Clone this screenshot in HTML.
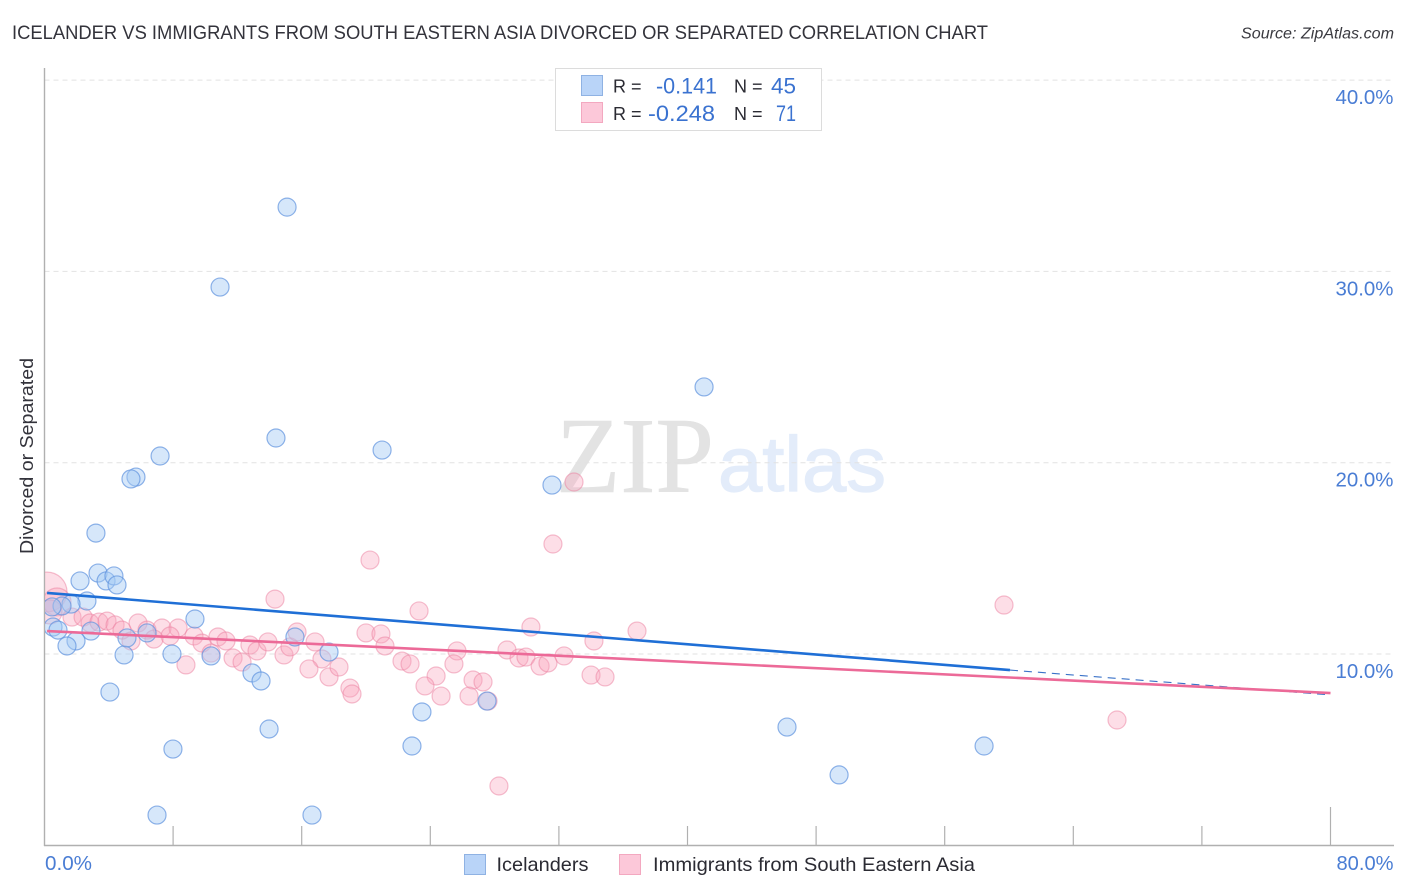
<!DOCTYPE html>
<html lang="en">
<head>
<meta charset="utf-8">
<title>Correlation chart</title>
<style>
html,body{margin:0;padding:0;background:#fff;width:1406px;height:892px;overflow:hidden}
svg{display:block}
text{font-family:"Liberation Sans",sans-serif}
</style>
</head>
<body>
<svg id="chart" xmlns="http://www.w3.org/2000/svg" width="1406" height="892" viewBox="0 0 1406 892">
  <defs>
    <clipPath id="plot-clip"><rect x="45" y="60" width="1349" height="785"/></clipPath>
  </defs>
  <rect width="1406" height="892" fill="#fff"/>
  <text x="12" y="39" font-size="19.5" fill="#33333b" textLength="976" lengthAdjust="spacingAndGlyphs">ICELANDER VS IMMIGRANTS FROM SOUTH EASTERN ASIA DIVORCED OR SEPARATED CORRELATION CHART</text>
  <text x="1394" y="38.5" font-size="15.5" font-style="italic" fill="#3a3a40" text-anchor="end" textLength="153" lengthAdjust="spacingAndGlyphs">Source: ZipAtlas.com</text>
  <g>
    <text x="556" y="492" font-size="108" fill="#e3e3e3" stroke="#e3e3e3" stroke-width="0.6" textLength="158" lengthAdjust="spacingAndGlyphs" style="font-family:'Liberation Serif',serif">ZIP</text>
    <text x="718" y="491" font-size="78" fill="#e3ecfa" stroke="#e3ecfa" stroke-width="1.2" textLength="168" lengthAdjust="spacingAndGlyphs">atlas</text>
  </g>
  <g id="grid"></g>
  <g id="axes"></g>
  <g id="points" clip-path="url(#plot-clip)"></g>
  <g id="trends"></g>
  <g id="labels"></g>
  <text transform="translate(33,456) rotate(-90)" font-size="18" fill="#33333b" text-anchor="middle" textLength="196" lengthAdjust="spacingAndGlyphs">Divorced or Separated</text>

  <g>
    <rect x="555.5" y="68.5" width="266" height="62" fill="#fff" stroke="#dcdcdc" stroke-width="1"/>
    <rect x="581.5" y="75.5" width="21" height="20" fill="#b9d4f8" stroke="#8fb2e3"/>
    <rect x="581.5" y="102.5" width="21" height="20" fill="#fcc8d9" stroke="#f3a8c0"/>
    <text x="613" y="92.5" font-size="18" fill="#2b2b33">R =</text>
    <text x="656" y="93.5" font-size="22" fill="#3a72d0" textLength="61" lengthAdjust="spacingAndGlyphs">-0.141</text>
    <text x="734" y="92.5" font-size="18" fill="#2b2b33">N =</text>
    <text x="771" y="93.5" font-size="22" fill="#3a72d0" textLength="25" lengthAdjust="spacingAndGlyphs">45</text>
    <text x="613" y="120" font-size="18" fill="#2b2b33">R =</text>
    <text x="648" y="121" font-size="22" fill="#3a72d0" textLength="67" lengthAdjust="spacingAndGlyphs">-0.248</text>
    <text x="734" y="120" font-size="18" fill="#2b2b33">N =</text>
    <text x="776" y="121" font-size="22" fill="#3a72d0" textLength="20" lengthAdjust="spacingAndGlyphs">71</text>
  </g>

  <g>
    <rect x="464.5" y="854.5" width="21" height="20" fill="#b9d4f8" stroke="#8fb2e3"/>
    <text x="496.5" y="871" font-size="19.5" fill="#2b2b33" textLength="92" lengthAdjust="spacingAndGlyphs">Icelanders</text>
    <rect x="619.5" y="854.5" width="21" height="20" fill="#fcc8d9" stroke="#f3a8c0"/>
    <text x="653" y="871" font-size="19.5" fill="#2b2b33" textLength="322" lengthAdjust="spacingAndGlyphs">Immigrants from South Eastern Asia</text>
  </g>
</svg>
<script>
const yTicks = [10, 20, 30, 40];
const yTickLabels = ["10.0%", "20.0%", "30.0%", "40.0%"];
const xTicks = [0, 8, 16, 24, 32, 40, 48, 56, 64, 72, 80];
const xEndLabels = ["0.0%", "80.0%"];

const blueX = [15.09,10.92,41.03,14.40,7.19,21.00,31.57,5.69,5.38,3.20,2.21,3.33,3.83,4.32,4.51,2.64,1.65,1.09,0.53,0.84,2.89,1.96,1.40,4.95,5.13,6.38,9.36,7.93,10.36,4.07,12.91,13.47,15.58,17.70,13.97,7.99,7.00,16.64,23.48,22.86,27.53,46.19,49.43,58.45,0.47];
const blueY = [33.36,29.18,23.96,21.29,20.35,20.66,18.83,19.25,19.15,16.32,13.82,14.23,13.82,14.08,13.61,12.77,12.61,12.51,11.41,11.25,11.20,10.68,10.42,9.95,10.84,11.10,11.83,10.00,9.90,8.01,9.01,8.59,10.89,10.10,6.08,5.03,1.58,1.58,6.97,5.19,7.54,6.18,3.68,5.19,12.46];

const pinkX = [0.16,0.78,0.34,14.34,1.71,2.40,2.83,3.39,3.89,4.39,4.82,5.82,6.38,7.31,8.31,7.81,6.81,5.38,9.30,9.80,10.79,11.29,10.36,8.80,11.73,12.29,12.78,13.22,13.90,14.90,15.27,15.71,16.83,17.26,16.45,17.70,18.32,19.00,19.13,23.30,20.00,20.93,21.18,22.24,22.74,25.66,25.47,24.36,23.67,24.67,26.66,27.28,26.41,27.59,28.27,28.77,29.52,29.95,30.83,31.32,32.32,30.26,34.18,36.86,34.00,34.87,20.25,31.63,32.94,59.69,66.72];
const pinkY = [13.24,12.72,12.20,12.87,11.93,11.93,11.62,11.67,11.72,11.52,11.25,11.62,11.25,11.36,11.36,10.94,10.78,10.68,10.94,10.57,10.89,10.68,10.05,9.43,9.79,9.58,10.47,10.16,10.63,9.95,10.37,11.15,10.63,9.74,9.22,8.80,9.32,8.22,7.91,12.25,11.10,11.05,10.42,9.63,9.48,10.16,9.48,8.85,8.33,7.80,8.64,8.54,7.80,7.54,3.10,10.21,9.79,9.84,9.37,9.53,9.90,11.41,10.68,11.20,8.90,8.80,14.91,15.75,18.99,12.56,6.55];
const pinkWeight = [4.9,2.4,1.8,1,1,1,1,1,1,1,1,1,1,1,1,1,1,1,1,1,1,1,1,1,1,1,1,1,1,1,1,1,1,1,1,1,1,1,1,1,1,1,1,1,1,1,1,1,1,1,1,1,1,1,1,1,1,1,1,1,1,1,1,1,1,1,1,1,1,1,1];

const blueTrendX = [0.16, 60.06];
const blueTrendY = [13.19, 9.16];
const blueForecastX = [60.06, 80];
const blueForecastY = [9.16, 7.86];
const pinkTrendX = [0.16, 80];
const pinkTrendY = [11.20, 7.96];

function xScale(v){ return 44.5 + v * 16.075; }
function yScale(v){ return 654 - (v - 10) * 19.13; }
const NS = "http://www.w3.org/2000/svg";
function make(tag, parentId){
  const el = document.createElementNS(NS, tag);
  document.getElementById(parentId).appendChild(el);
  return el;
}
function set(el, props){
  for (const k in props) el.setAttribute(k, props[k]);
  return el;
}

yTicks.forEach(function(t, i){
  const g = make("line", "grid");
  set(g, {x1:44.5, x2:1394, y1:yScale(t), y2:yScale(t), stroke:"#e2e2e2", "stroke-width":1, "stroke-dasharray":"5 4"});
  
  
  const lab = make("text", "labels");
  set(lab, {x:1393.5, y:yScale(t) + 24, "font-size":20.5, fill:"#4a7dd4", "text-anchor":"end", textLength:58, lengthAdjust:"spacingAndGlyphs"});
  lab.textContent = yTickLabels[i];
  
  
});

const yAxis = make("line", "axes");
set(yAxis, {x1:44.5, x2:44.5, y1:68, y2:846, stroke:"#b0b0b0", "stroke-width":1.4});


const xAxis = make("line", "axes");
set(xAxis, {x1:44, x2:1394, y1:845.5, y2:845.5, stroke:"#b0b0b0", "stroke-width":1.4});



xTicks.forEach(function(t, i){
  if (i === 0) return;
  const isLast = i === xTicks.length - 1;
  const tick = make("line", "axes");
  set(tick, {x1:xScale(t), x2:xScale(t), y1:isLast ? 807 : 826, y2:845.5, stroke:"#b0b0b0", "stroke-width":1.2});
  
  
});

const xLabel0 = make("text", "labels");
set(xLabel0, {x:45, y:870, "font-size":20.5, fill:"#4a7dd4", textLength:47, lengthAdjust:"spacingAndGlyphs"});
xLabel0.textContent = xEndLabels[0];


const xLabel1 = make("text", "labels");
set(xLabel1, {x:1393.5, y:870, "font-size":20.5, fill:"#4a7dd4", "text-anchor":"end", textLength:57, lengthAdjust:"spacingAndGlyphs"});
xLabel1.textContent = xEndLabels[1];



pinkX.forEach(function(v, i){
  const c = make("circle", "points");
  set(c, {cx:xScale(v), cy:yScale(pinkY[i]), r:9 * Math.sqrt(pinkWeight[i]), fill:"#f9a3bd", "fill-opacity":0.36, stroke:"#ec7f9f", "stroke-opacity":0.5, "stroke-width":1.2});
  
  
});
blueX.forEach(function(v, i){
  const c = make("circle", "points");
  set(c, {cx:xScale(v), cy:yScale(blueY[i]), r:9, fill:"#a5c9f3", "fill-opacity":0.45, stroke:"#5f93de", "stroke-opacity":0.7, "stroke-width":1.2});
  
  
});

const blueForecast = make("line", "trends");
set(blueForecast, {x1:xScale(blueForecastX[0]), y1:yScale(blueForecastY[0]), x2:xScale(blueForecastX[1]), y2:yScale(blueForecastY[1]), stroke:"#3a72c8", "stroke-width":1.1, "stroke-dasharray":"8 6"});


const blueTrend = make("line", "trends");
set(blueTrend, {x1:xScale(blueTrendX[0]), y1:yScale(blueTrendY[0]), x2:xScale(blueTrendX[1]), y2:yScale(blueTrendY[1]), stroke:"#1f6fd6", "stroke-width":2.6});


const pinkTrend = make("line", "trends");
set(pinkTrend, {x1:xScale(pinkTrendX[0]), y1:yScale(pinkTrendY[0]), x2:xScale(pinkTrendX[1]), y2:yScale(pinkTrendY[1]), stroke:"#ec6a98", "stroke-width":2.6});


</script>
</body>
</html>
